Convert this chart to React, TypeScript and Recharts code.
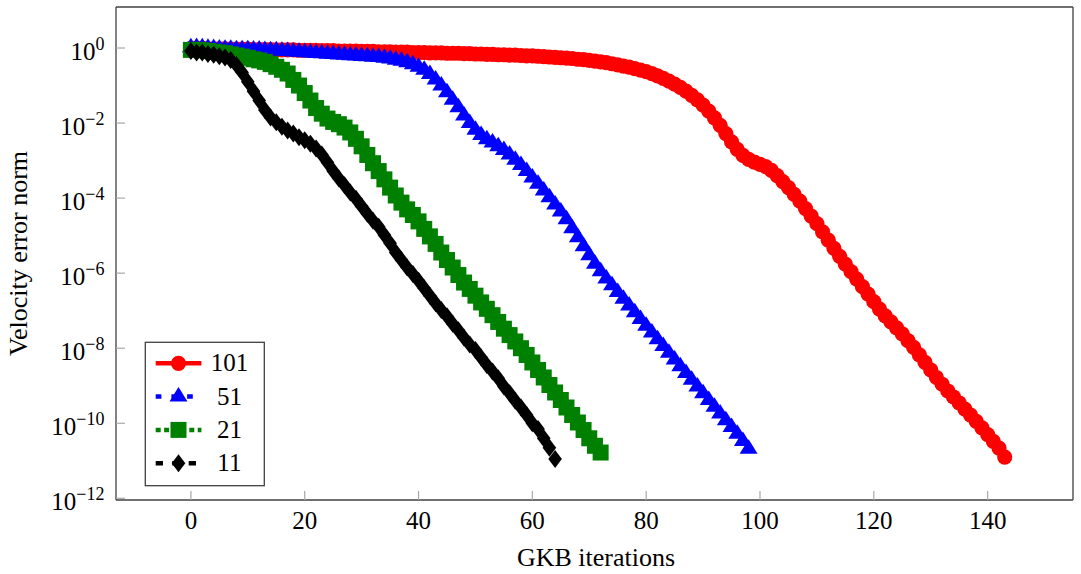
import React from 'react';
import { LineChart, Line, XAxis, YAxis, Label } from 'recharts';

// log10 of the velocity error norm, one entry per GKB iteration (starting at 0)
const err101 = [
  -0.01, -0.01, -0.01, -0.02, -0.02, -0.02, -0.02, -0.03, -0.03, -0.03,
  -0.03, -0.04, -0.04, -0.04, -0.04, -0.05, -0.05, -0.05, -0.05, -0.06,
  -0.06, -0.06, -0.06, -0.07, -0.07, -0.07, -0.08, -0.08, -0.08, -0.08,
  -0.09, -0.09, -0.09, -0.1, -0.1, -0.1, -0.11, -0.11, -0.11, -0.12,
  -0.12, -0.12, -0.13, -0.13, -0.13, -0.14, -0.14, -0.14, -0.15, -0.15,
  -0.16, -0.16, -0.17, -0.17, -0.18, -0.18, -0.19, -0.19, -0.2, -0.21,
  -0.21, -0.22, -0.23, -0.24, -0.25, -0.26, -0.27, -0.28, -0.3, -0.31,
  -0.33, -0.35, -0.37, -0.39, -0.42, -0.45, -0.48, -0.51, -0.55, -0.59,
  -0.63, -0.68, -0.74, -0.81, -0.88, -0.96, -1.05, -1.15, -1.26, -1.38,
  -1.52, -1.68, -1.86, -2.06, -2.28, -2.5, -2.7, -2.86, -2.97, -3.04,
  -3.1, -3.16, -3.26, -3.4, -3.56, -3.72, -3.9, -4.08, -4.28, -4.48,
  -4.68, -4.9, -5.12, -5.34, -5.55, -5.76, -5.96, -6.16, -6.36, -6.56,
  -6.76, -6.96, -7.14, -7.3, -7.46, -7.62, -7.8, -7.98, -8.18, -8.38,
  -8.58, -8.78, -8.96, -9.14, -9.3, -9.46, -9.62, -9.78, -9.95, -10.12,
  -10.3, -10.48, -10.66, -10.9,
];

const err51 = [
  0.02, 0.03, 0.02, 0.01, 0.0, -0.01, -0.02, -0.02, -0.03, -0.03,
  -0.03, -0.04, -0.04, -0.05, -0.06, -0.06, -0.07, -0.08, -0.09, -0.1,
  -0.11, -0.12, -0.13, -0.14, -0.15, -0.16, -0.17, -0.18, -0.19, -0.2,
  -0.21, -0.22, -0.23, -0.24, -0.26, -0.28, -0.31, -0.34, -0.38, -0.43,
  -0.5, -0.58, -0.69, -0.84, -1.0, -1.18, -1.38, -1.58, -1.8, -2.0,
  -2.18, -2.32, -2.43, -2.52, -2.62, -2.72, -2.84, -2.98, -3.12, -3.28,
  -3.45, -3.62, -3.8, -3.98, -4.17, -4.36, -4.56, -4.8, -5.04, -5.28,
  -5.52, -5.75, -5.95, -6.14, -6.32, -6.5, -6.68, -6.86, -7.04, -7.22,
  -7.4, -7.58, -7.76, -7.94, -8.12, -8.3, -8.48, -8.66, -8.84, -9.02,
  -9.2, -9.38, -9.56, -9.74, -9.92, -10.1, -10.28, -10.47, -10.68,
];

const err21 = [
  -0.05, -0.05, -0.06, -0.08, -0.1, -0.12, -0.14, -0.17, -0.2, -0.23,
  -0.26, -0.3, -0.33, -0.37, -0.43, -0.5, -0.58, -0.68, -0.85, -1.0,
  -1.2, -1.4, -1.6, -1.75, -1.88, -1.97, -2.03, -2.12, -2.25, -2.42,
  -2.62, -2.85, -3.07, -3.28, -3.5, -3.72, -3.93, -4.12, -4.3, -4.45,
  -4.62, -4.82, -5.02, -5.22, -5.45, -5.65, -5.85, -6.05, -6.25, -6.42,
  -6.6, -6.78, -6.95, -7.12, -7.3, -7.48, -7.65, -7.82, -8.0, -8.18,
  -8.38, -8.58, -8.78, -8.98, -9.18, -9.38, -9.58, -9.78, -9.98, -10.18,
  -10.4, -10.6, -10.78,
];

const err11 = [
  -0.08, -0.12, -0.12, -0.16, -0.18, -0.22, -0.25, -0.32, -0.45, -0.65,
  -0.9, -1.15, -1.4, -1.65, -1.85, -1.98, -2.1, -2.2, -2.28, -2.38,
  -2.46, -2.55, -2.68, -2.84, -3.05, -3.28, -3.48, -3.66, -3.85, -4.02,
  -4.22, -4.42, -4.6, -4.76, -4.98, -5.2, -5.45, -5.65, -5.85, -6.02,
  -6.2, -6.4, -6.6, -6.8, -6.98, -7.15, -7.35, -7.52, -7.72, -7.9,
  -8.05, -8.25, -8.45, -8.62, -8.8, -9.02, -9.2, -9.4, -9.58, -9.78,
  -10.0, -10.15, -10.4, -10.65, -10.95,
];

const xTicks = [0, 20, 40, 60, 80, 100, 120, 140];
const yTicks = [1e-12, 1e-10, 1e-8, 1e-6, 1e-4, 1e-2, 1];

const series = [
  { key: 's101', name: '101', values: err101, color: '#ff0000', dash: undefined, marker: 'circle' },
  { key: 's51', name: '51', values: err51, color: '#0000ff', dash: '5.7 10', marker: 'triangle' },
  { key: 's21', name: '21', values: err21, color: '#008000', dash: '5 3.4', marker: 'square' },
  { key: 's11', name: '11', values: err11, color: '#000000', dash: '7.3 9.2', marker: 'diamond' },
];

const FONT = '"Liberation Serif", "Times New Roman", Times, serif';
const FRAME = '#404040';
const TICK = '#a8a8a8';
const W = 1081;
const H = 574;
const X_DOMAIN = [-13.16, 155];
const Y_DOMAIN = [10 ** -12.045, 10 ** 1.093];

const maxLen = Math.max(...series.map((s) => s.values.length));
const rows = Array.from({ length: maxLen }, (_, i) => {
  const row: Record<string, number> = { it: i };
  series.forEach((s) => {
    if (i < s.values.length) row[s.key] = 10 ** s.values[i];
  });
  return row;
});

function Marker({ kind, cx, cy, color }: { kind: string; cx: number; cy: number; color: string }) {
  switch (kind) {
    case 'circle':
      return <circle cx={cx} cy={cy} r={7.6} fill={color} />;
    case 'triangle':
      return <polygon points={`${cx},${cy - 9.5} ${cx + 9},${cy + 5} ${cx - 9},${cy + 5}`} fill={color} />;
    case 'square':
      return <rect x={cx - 8} y={cy - 8} width={16} height={16} fill={color} />;
    default:
      return <polygon points={`${cx},${cy - 9} ${cx + 6.8},${cy} ${cx},${cy + 9} ${cx - 6.8},${cy}`} fill={color} />;
  }
}

const makeDot = (kind: string, color: string) => (p: any) => {
  if (p.cx == null || p.cy == null || p.value == null) return <g key={`n${p.index}`} />;
  return (
    <g key={`d${p.index}`}>
      <Marker kind={kind} cx={p.cx} cy={p.cy} color={color} />
    </g>
  );
};

const YTick = (p: any) => {
  const exp = Math.round(Math.log10(p.payload.value));
  const sup = exp === 0 ? '0' : `\u2212${Math.abs(exp)}`;
  return (
    <text x={p.x} y={p.y + 11.7} textAnchor="end" fontFamily={FONT} fontSize={25} fill="#000">
      10
      <tspan dy={-10} fontSize={18}>
        {sup}
      </tspan>
    </text>
  );
};

const XTick = (p: any) => (
  <text x={p.x} y={p.y + 29} textAnchor="middle" fontFamily={FONT} fontSize={25} fill="#000">
    {p.payload.value}
  </text>
);

function LegendBox() {
  const rowH = 33.3;
  return (
    <svg width={122} height={146} style={{ position: 'absolute', left: 144, top: 341 }}>
      <rect x={1.3} y={1.3} width={119} height={143.4} fill="#fff" stroke={FRAME} strokeWidth={1.3} />
      {series.map((s, i) => {
        const cy = 22.3 + rowH * i;
        return (
          <g key={s.key}>
            <line x1={11.7} x2={57.4} y1={cy} y2={cy} stroke={s.color} strokeWidth={4.5} strokeDasharray={s.dash} />
            <Marker kind={s.marker} cx={34.5} cy={cy} color={s.color} />
            <text x={85.4} y={cy + 8} textAnchor="middle" fontFamily={FONT} fontSize={25} fill="#000">
              {s.name}
            </text>
          </g>
        );
      })}
    </svg>
  );
}

export default function App() {
  return (
    <div style={{ position: 'absolute', left: 0, top: 0, width: W, height: H, background: '#fff' }}>
      <LineChart width={W} height={H} data={rows} margin={{ top: 0, right: 0, bottom: 0, left: 0 }}>
        <XAxis
          xAxisId="b"
          dataKey="it"
          type="number"
          domain={X_DOMAIN}
          ticks={xTicks}
          interval={0}
          allowDataOverflow
          orientation="bottom"
          height={74}
          tickSize={-9}
          tickMargin={9}
          tick={XTick}
          tickLine={{ stroke: TICK, strokeWidth: 1.2 }}
          axisLine={{ stroke: FRAME, strokeWidth: 1.3 }}
        >
          <Label
            value="GKB iterations"
            content={() => (
              <text x={596} y={566} textAnchor="middle" fontFamily={FONT} fontSize={26} fill="#000">
                GKB iterations
              </text>
            )}
          />
        </XAxis>
        <XAxis
          xAxisId="t"
          dataKey="it"
          type="number"
          domain={X_DOMAIN}
          ticks={xTicks}
          interval={0}
          allowDataOverflow
          orientation="top"
          height={7}
          tickSize={-9}
          tick={false}
          tickLine={{ stroke: TICK, strokeWidth: 1.2 }}
          axisLine={{ stroke: FRAME, strokeWidth: 1.3 }}
        />
        <YAxis
          yAxisId="l"
          type="number"
          scale="log"
          domain={Y_DOMAIN}
          ticks={yTicks}
          interval={0}
          allowDataOverflow
          width={116}
          tickSize={-9}
          tickMargin={20.5}
          tick={YTick}
          tickLine={{ stroke: TICK, strokeWidth: 1.2 }}
          axisLine={{ stroke: FRAME, strokeWidth: 1.3 }}
        >
          <Label
            value="Velocity error norm"
            content={() => (
              <text
                transform="translate(27,253.5) rotate(-90)"
                textAnchor="middle"
                fontFamily={FONT}
                fontSize={26}
                fill="#000"
              >
                Velocity error norm
              </text>
            )}
          />
        </YAxis>
        <YAxis
          yAxisId="r"
          orientation="right"
          type="number"
          scale="log"
          domain={Y_DOMAIN}
          ticks={yTicks}
          interval={0}
          allowDataOverflow
          width={8}
          tickSize={-9}
          tick={false}
          tickLine={{ stroke: TICK, strokeWidth: 1.2 }}
          axisLine={{ stroke: FRAME, strokeWidth: 1.3 }}
        />
        {series.map((s) => (
          <Line
            key={s.key}
            xAxisId="b"
            yAxisId="l"
            type="linear"
            dataKey={s.key}
            name={s.name}
            stroke={s.color}
            strokeWidth={3}
            strokeDasharray={s.dash}
            dot={makeDot(s.marker, s.color)}
            activeDot={false}
            isAnimationActive={false}
          />
        ))}
      </LineChart>
      <LegendBox />
    </div>
  );
}
